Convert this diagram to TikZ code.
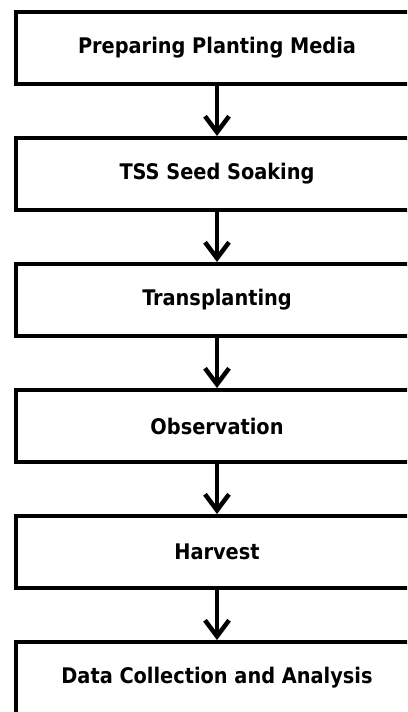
\documentclass[tikz,border=0pt]{standalone}
\usepackage{fontspec}
\setmainfont{DejaVu Sans Condensed}
\usetikzlibrary{positioning, arrows.meta}
\tikzstyle{stepbox} =[draw, line width=4pt, minimum width=403pt, minimum height=72pt, align=center, font=\bfseries\fontsize{21.5}{26}\selectfont]
\tikzstyle{flowarrow} =[-{Straight Barb[length=16pt, width=24pt]}, line width=4.5pt, black]

\begin{document}
\begin{tikzpicture}
\useasboundingbox (0pt,0pt) rectangle (407pt,-712pt);
\clip (0pt,0pt) rectangle (407pt,-712pt);

\node (prepMedia) [stepbox] at (217pt,-48pt) {Preparing Planting Media};
\node (seedSoak) [stepbox, below=50pt of prepMedia] {TSS Seed Soaking};
\node (transplant) [stepbox, below=50pt of seedSoak] {Transplanting};
\node (observation) [stepbox, below=50pt of transplant] {Observation};
\node (harvest) [stepbox, below=50pt of observation] {Harvest};
\node (dataAnalysis) [stepbox, below=50pt of harvest] {Data Collection and Analysis};

\draw[flowarrow]
	(prepMedia) edge (seedSoak)
	(seedSoak) edge (transplant)
	(transplant) edge (observation)
	(observation) edge (harvest)
	(harvest) edge (dataAnalysis);
\end{tikzpicture}
\end{document}
